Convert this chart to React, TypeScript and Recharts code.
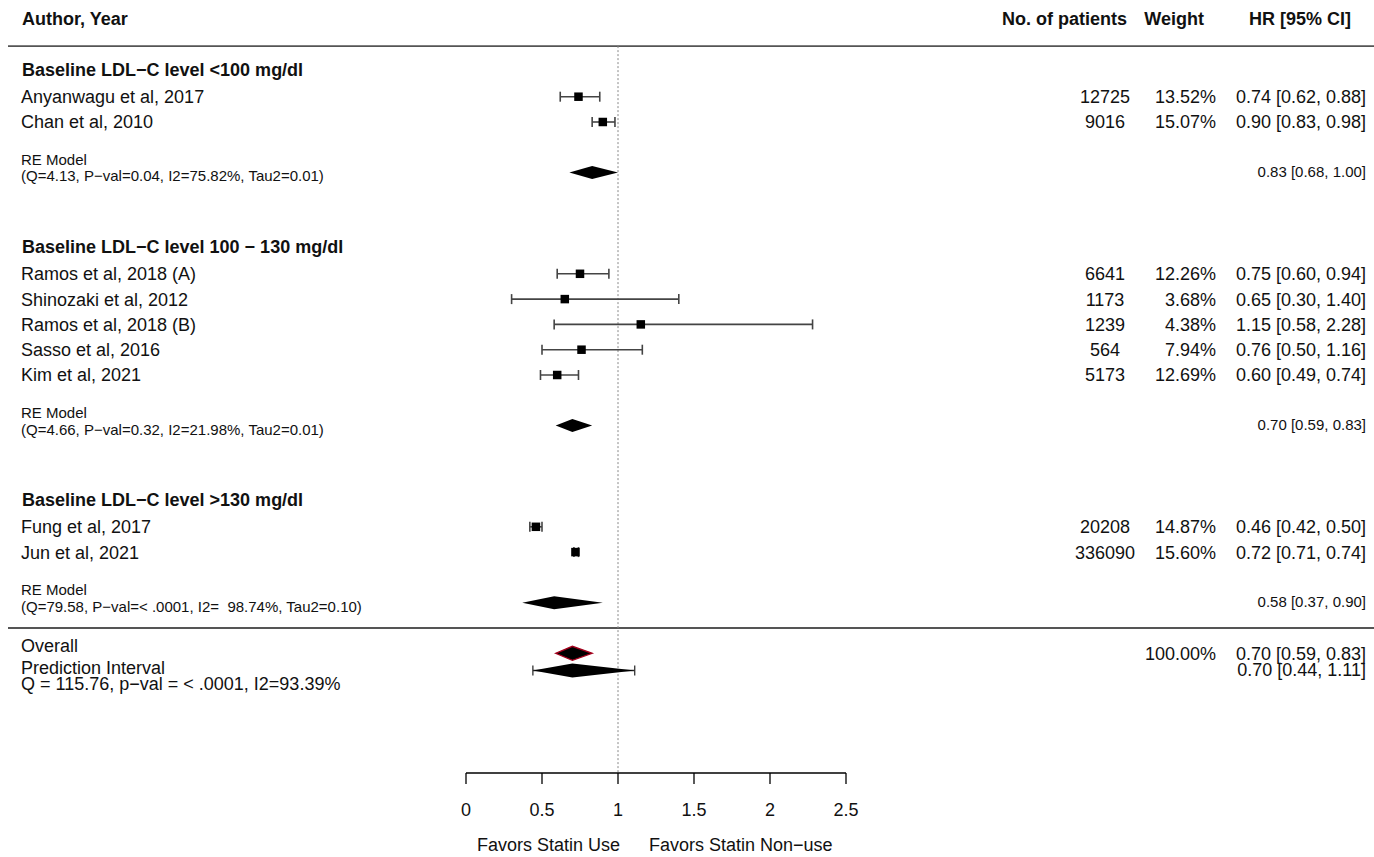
import { ScatterChart, Scatter, XAxis, YAxis, ErrorBar, ReferenceLine } from 'recharts'

// individual studies, top to bottom
const studyLabels = [
  'Anyanwagu et al, 2017',
  'Chan et al, 2010',
  'Ramos et al, 2018 (A)',
  'Shinozaki et al, 2012',
  'Ramos et al, 2018 (B)',
  'Sasso et al, 2016',
  'Kim et al, 2021',
  'Fung et al, 2017',
  'Jun et al, 2021'
]
const studyRows = [1, 2, 8, 9, 10, 11, 12, 18, 19]
const patients = [12725, 9016, 6641, 1173, 1239, 564, 5173, 20208, 336090]
const weights = [13.52, 15.07, 12.26, 3.68, 4.38, 7.94, 12.69, 14.87, 15.6]
const hr = [0.74, 0.9, 0.75, 0.65, 1.15, 0.76, 0.6, 0.46, 0.72]
const hrLow = [0.62, 0.83, 0.6, 0.3, 0.58, 0.5, 0.49, 0.42, 0.71]
const hrHigh = [0.88, 0.98, 0.94, 1.4, 2.28, 1.16, 0.74, 0.5, 0.74]

// subgroups and their random-effects summaries
const groupLabels = [
  'Baseline LDL−C level <100 mg/dl',
  'Baseline LDL−C level 100 − 130 mg/dl',
  'Baseline LDL−C level >130 mg/dl'
]
const groupRows = [0, 7, 17]
const reRows = [4, 14, 21]
const reStats = [
  '(Q=4.13, P−val=0.04, I2=75.82%, Tau2=0.01)',
  '(Q=4.66, P−val=0.32, I2=21.98%, Tau2=0.01)',
  '(Q=79.58, P−val=< .0001, I2=\u00a0 98.74%, Tau2=0.10)'
]
const reHr = [0.83, 0.7, 0.58]
const reLow = [0.68, 0.59, 0.37]
const reHigh = [1.0, 0.83, 0.9]

// pooled estimate and prediction interval
const overallRow = 23
const overallHr = 0.7
const overallLow = 0.59
const overallHigh = 0.83
const overallWeight = 100
const predRow = 23.68
const predHr = 0.7
const predLow = 0.44
const predHigh = 1.11
const overallStats = 'Q = 115.76, p−val = < .0001, I2=93.39%'

const columnHeaders = ['Author, Year', 'No. of patients', 'Weight', 'HR [95% CI]']
const headerRow = -2.09
const ruleRows = [-1, 22]
const xTicks = [0, 0.5, 1, 1.5, 2, 2.5]

const W = 1374
const H = 857
const Y_TOP = -2.822
const Y_BOTTOM = 27.731
const FONT = "'Liberation Sans', Arial, Helvetica, sans-serif"

const ci = (v: number, lo: number, hi: number) =>
  `${v.toFixed(2)} [${lo.toFixed(2)}, ${hi.toFixed(2)}]`

const studies = studyLabels.map((label, i) => ({
  x: hr[i],
  y: studyRows[i],
  err: [hr[i] - hrLow[i], hrHigh[i] - hr[i]]
}))

type TableRowData = {
  x: number
  y: number
  kind: string
  label?: string
  stats?: string
  n?: number
  weight?: string
  ci?: string
}

const tableRows: TableRowData[] = [
  { x: 0, y: headerRow, kind: 'header' },
  ...groupLabels.map((label, i) => ({ x: 0, y: groupRows[i], kind: 'group', label })),
  ...studyLabels.map((label, i) => ({
    x: 0,
    y: studyRows[i],
    kind: 'study',
    label,
    n: patients[i],
    weight: `${weights[i].toFixed(2)}%`,
    ci: ci(hr[i], hrLow[i], hrHigh[i])
  })),
  ...reRows.map((row, i) => ({
    x: 0,
    y: row,
    kind: 're',
    label: 'RE Model',
    stats: reStats[i],
    ci: ci(reHr[i], reLow[i], reHigh[i])
  })),
  {
    x: 0,
    y: overallRow,
    kind: 'overall',
    label: 'Overall',
    weight: `${overallWeight.toFixed(2)}%`,
    ci: ci(overallHr, overallLow, overallHigh)
  },
  {
    x: 0,
    y: predRow,
    kind: 'pred',
    label: 'Prediction Interval',
    stats: overallStats,
    ci: ci(predHr, predLow, predHigh)
  }
]

const summaries = [
  ...reRows.map((row, i) => ({ row, est: reHr[i], lo: reLow[i], hi: reHigh[i], kind: 're' })),
  { row: overallRow, est: overallHr, lo: overallLow, hi: overallHigh, kind: 'overall' },
  { row: predRow, est: predHr, lo: predLow, hi: predHigh, kind: 'pred' }
]

function Txt({ x, y, size = 18, anchor = 'start', bold = false, children }: any) {
  return (
    <text
      x={x}
      y={y}
      dy="0.36em"
      fontSize={size}
      textAnchor={anchor}
      fontWeight={bold ? 'bold' : 'normal'}
      fill="#111"
      fontFamily={FONT}
    >
      {children}
    </text>
  )
}

// text columns; x positions are fixed, y comes from the row scale
function TableRow(props: any) {
  const { cy, payload: r } = props
  if (r.kind === 'header') {
    return (
      <g>
        <Txt x={22} y={cy} bold>{columnHeaders[0]}</Txt>
        <Txt x={1127} y={cy} bold anchor="end">{columnHeaders[1]}</Txt>
        <Txt x={1204} y={cy} bold anchor="end">{columnHeaders[2]}</Txt>
        <Txt x={1351} y={cy} bold anchor="end">{columnHeaders[3]}</Txt>
      </g>
    )
  }
  if (r.kind === 'group') {
    return <Txt x={22} y={cy - 1.5} bold>{r.label}</Txt>
  }
  if (r.kind === 'study') {
    return (
      <g>
        <Txt x={21} y={cy}>{r.label}</Txt>
        <Txt x={1105} y={cy} anchor="middle">{r.n}</Txt>
        <Txt x={1216} y={cy} anchor="end">{r.weight}</Txt>
        <Txt x={1366} y={cy} anchor="end">{r.ci}</Txt>
      </g>
    )
  }
  if (r.kind === 're') {
    return (
      <g>
        <Txt x={21} y={cy - 13.3} size={15}>{r.label}</Txt>
        <Txt x={21} y={cy + 3.5} size={15}>{r.stats}</Txt>
        <Txt x={1366} y={cy - 1} size={15} anchor="end">{r.ci}</Txt>
      </g>
    )
  }
  if (r.kind === 'overall') {
    return (
      <g>
        <Txt x={21} y={cy - 7.5}>{r.label}</Txt>
        <Txt x={1216} y={cy} anchor="end">{r.weight}</Txt>
        <Txt x={1366} y={cy} anchor="end">{r.ci}</Txt>
      </g>
    )
  }
  return (
    <g>
      <Txt x={21} y={cy - 3}>{r.label}</Txt>
      <Txt x={21} y={cy + 13.5}>{r.stats}</Txt>
      <Txt x={1366} y={cy - 1} anchor="end">{r.ci}</Txt>
    </g>
  )
}

const StudySquare = (props: any) => (
  <rect x={props.cx - 4.25} y={props.cy - 4.25} width={8.5} height={8.5} fill="#000" />
)

const NoPoint = () => <g />

// diamond spanning the lower limit, estimate and upper limit points
const diamond = (kind: string) => (props: any) => {
  const [a, b, c] = props.points
  const h = kind === 're' ? 6.5 : 7
  const poly = `${a.x},${a.y} ${b.x},${b.y - h} ${c.x},${c.y} ${b.x},${b.y + h}`
  if (kind === 'pred') {
    return (
      <g>
        <line x1={a.x} x2={c.x} y1={a.y} y2={c.y} stroke="#333" strokeWidth={1.3} />
        <line x1={a.x} x2={a.x} y1={a.y - 5} y2={a.y + 5} stroke="#333" strokeWidth={1.3} />
        <line x1={c.x} x2={c.x} y1={c.y - 5} y2={c.y + 5} stroke="#333" strokeWidth={1.3} />
        <polygon points={poly} fill="#000" />
      </g>
    )
  }
  if (kind === 'overall') {
    return <polygon points={poly} fill="#000" stroke="#a3001c" strokeWidth={1.3} />
  }
  return <polygon points={poly} fill="#000" />
}

function FavorsLabel(props: any) {
  const x = props.viewBox?.x ?? 0
  return (
    <g>
      <Txt x={x + 2} y={845} anchor="end">Favors Statin Use</Txt>
      <Txt x={x + 31} y={845}>Favors Statin Non−use</Txt>
    </g>
  )
}

export default function App() {
  return (
    <div style={{ width: W, height: H, background: '#fff', fontFamily: FONT }}>
      <style>{'body{margin:0}'}</style>
      <ScatterChart width={W} height={H} margin={{ top: 0, right: 528, bottom: 24, left: 466 }}>
        <XAxis
          type="number"
          dataKey="x"
          domain={[0, 2.5]}
          ticks={xTicks}
          interval={0}
          height={60}
          tickSize={11}
          tickMargin={19}
          axisLine={{ stroke: '#000', strokeWidth: 1.3 }}
          tickLine={{ stroke: '#000', strokeWidth: 1.3 }}
          tick={{ fill: '#111', fontSize: 18 }}
        />
        <YAxis type="number" dataKey="y" domain={[Y_TOP, Y_BOTTOM]} reversed hide />
        {ruleRows.map((row) => (
          <ReferenceLine
            key={row}
            y={row}
            shape={(p: any) => (
              <line x1={8} x2={W} y1={p.y1} y2={p.y2} stroke="#555" strokeWidth={1.8} />
            )}
          />
        ))}
        <ReferenceLine
          segment={[
            { x: 1, y: -1 },
            { x: 1, y: Y_BOTTOM }
          ]}
          stroke="#888"
          strokeDasharray="2 2"
          ifOverflow="visible"
          label={<FavorsLabel />}
        />
        <Scatter data={tableRows} shape={TableRow} isAnimationActive={false} />
        <Scatter data={studies} shape={StudySquare} isAnimationActive={false}>
          <ErrorBar dataKey="err" direction="x" width={5} stroke="#444" strokeWidth={1.6} />
        </Scatter>
        {summaries.map((s, i) => (
          <Scatter
            key={i}
            data={[
              { x: s.lo, y: s.row },
              { x: s.est, y: s.row },
              { x: s.hi, y: s.row }
            ]}
            shape={NoPoint}
            line={diamond(s.kind)}
            isAnimationActive={false}
          />
        ))}
      </ScatterChart>
    </div>
  )
}
